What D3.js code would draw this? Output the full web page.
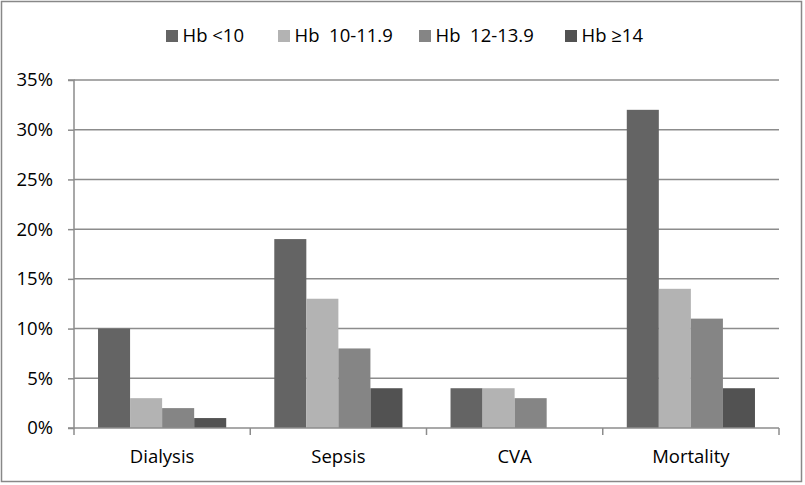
<!DOCTYPE html>
<html><head><meta charset="utf-8">
<script src="https://cdn.jsdelivr.net/npm/d3@7"></script>
<style>
html,body{margin:0;padding:0;background:#fff;}
text{font-family:"Open Sans",sans-serif;fill:#000;}
</style></head>
<body><svg id="c" width="805" height="485"></svg>
<script>
const categories = ["Dialysis","Sepsis","CVA","Mortality"];
const seriesNames = ["Hb <10","Hb  10-11.9","Hb  12-13.9","Hb \u226514"];
const hbUnder10 = [10,19,4,32];
const hb10to12 = [3,13,4,14];
const hb12to14 = [2,8,3,11];
const hb14plus = [1,4,0,4];
const yTicks = [0,5,10,15,20,25,30,35];
const colors = ["#646464","#b3b3b3","#858585","#525252"];
const legendX = [166,278,419,565];

const series = [hbUnder10,hb10to12,hb12to14,hb14plus];
const FS = 18.5;
const svg = d3.select("#c");
svg.append("rect").attr("x",1.5).attr("y",1.5).attr("width",800).attr("height",480)
  .attr("fill","#fff").attr("stroke","#888").attr("stroke-width",1.5);

const L=74,R=779,T=80,B=428;
const x = d3.scaleBand().domain(categories).range([L,R]).paddingInner(0).paddingOuter(0);
const inner = d3.scaleBand().domain(d3.range(4)).range([0,x.bandwidth()]).paddingOuter(0.75).paddingInner(0);
const y = d3.scaleLinear().domain([0,35]).range([B,T]);

// gridlines
svg.append("g").selectAll("line").data(yTicks.filter(d=>d>0)).join("line")
  .attr("x1",L).attr("x2",R).attr("y1",d=>y(d)).attr("y2",d=>y(d))
  .attr("stroke","#8c8c8c").attr("stroke-width",1.5);

// bars
const g = svg.append("g");
categories.forEach((c,ci)=>{
  series.forEach((s,si)=>{
    if(s[ci]<=0) return;
    g.append("rect").attr("x",x(c)+inner(si)).attr("width",inner.bandwidth())
      .attr("y",y(s[ci])).attr("height",B-y(s[ci])).attr("fill",colors[si]);
  });
});

// y axis
const ya = d3.axisLeft(y).tickValues(yTicks).tickFormat(d=>d+"%").tickSize(6).tickPadding(15);
const yg = svg.append("g").attr("transform",`translate(${L},0)`).call(ya);
yg.select(".domain").attr("stroke","#8c8c8c").attr("stroke-width",1.5).attr("d",`M-6,${T}H0V${B}H-6`);
yg.selectAll(".tick line").attr("stroke","#8c8c8c").attr("stroke-width",1.5);
yg.selectAll("text").attr("font-size",FS).attr("font-family","Open Sans").attr("fill","#000");

// x axis
const xg = svg.append("g").attr("transform",`translate(0,${B})`);
xg.append("line").attr("x1",L).attr("x2",R).attr("stroke","#8c8c8c").attr("stroke-width",1.5);
const bounds = categories.map(c=>x(c)).concat([R]);
xg.selectAll("line.t").data(bounds).join("line").attr("class","t")
  .attr("x1",d=>d).attr("x2",d=>d).attr("y1",0).attr("y2",7)
  .attr("stroke","#8c8c8c").attr("stroke-width",1.5);
xg.selectAll("text").data(categories).join("text")
  .attr("x",d=>x(d)+x.bandwidth()/2).attr("y",35).attr("text-anchor","middle")
  .attr("font-size",FS).text(d=>d);

// legend
const lg = svg.append("g");
seriesNames.forEach((n,i)=>{
  lg.append("rect").attr("x",legendX[i]).attr("y",30).attr("width",12).attr("height",12).attr("fill",colors[i]);
  lg.append("text").attr("x",legendX[i]+16.5).attr("y",42).attr("font-size",FS)
    .attr("xml:space","preserve").style("white-space","pre").text(n);
});
</script></body></html>
